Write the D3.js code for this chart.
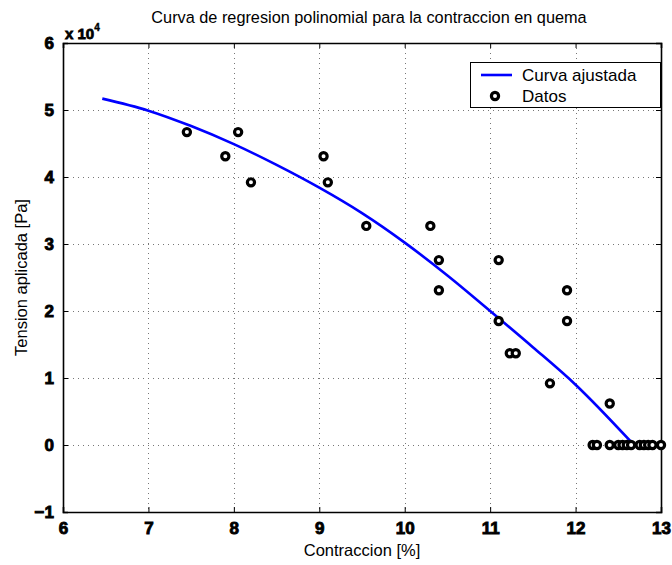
<!DOCTYPE html>
<html>
<head>
<meta charset="utf-8">
<script src="https://cdn.jsdelivr.net/npm/d3@7"></script>
<style>
  html, body { margin: 0; padding: 0; background: #fff; }
  svg { display: block; font-family: "Liberation Sans", Arial, Helvetica, sans-serif; }
  .bold { font-weight: 700 !important; }
</style>
</head>
<body>
<svg id="chart" width="672" height="565"></svg>
<script>
// ---- Data (values in units of 10^4 Pa) ----
const dataX = [7.45, 7.9, 8.05, 8.2, 9.05, 9.1, 9.55, 10.3, 10.4, 10.4, 11.1, 11.1, 11.23, 11.3, 11.7, 11.9, 11.9, 12.4,
               12.2, 12.25, 12.4, 12.5, 12.55, 12.6, 12.65, 12.75, 12.8, 12.85, 12.9, 13.0];
const dataY = [4.67, 4.31, 4.67, 3.92, 4.31, 3.92, 3.27, 3.27, 2.76, 2.31, 2.76, 1.85, 1.37, 1.37, 0.92, 2.31, 1.85, 0.62,
               0, 0, 0, 0, 0, 0, 0, 0, 0, 0, 0, 0];
const curveX = [6.46, 7.0, 7.5, 8.0, 8.5, 9.0, 9.5, 10.0, 10.5, 11.0, 11.5, 12.0, 12.64];
const curveY = [5.17, 4.99, 4.76, 4.49, 4.18, 3.84, 3.46, 3.02, 2.53, 2.00, 1.46, 0.90, 0.06];
const xTicks = [6, 7, 8, 9, 10, 11, 12, 13];
const yTicks = [-1, 0, 1, 2, 3, 4, 5, 6];
const titleText = "Curva de regresion polinomial  para la contraccion en quema";
const xLabel = "Contraccion [%]";
const yLabel = "Tension aplicada [Pa]";
const legendLabels = ["Curva ajustada", "Datos"];

// ---- Layout ----
const svg = d3.select("#chart");
const L = 63, R = 661, T = 43, B = 512;
const x = d3.scaleLinear().domain([6, 13]).range([L, R]);
const y = d3.scaleLinear().domain([-1, 6]).range([B, T]);

// grid
const grid = svg.append("g").attr("stroke", "#777").attr("stroke-width", 1).attr("stroke-dasharray", "1,4");
grid.selectAll("line.gx").data(xTicks.slice(1, -1)).join("line")
  .attr("x1", d => Math.round(x(d)) + 0.5).attr("x2", d => Math.round(x(d)) + 0.5)
  .attr("y1", T).attr("y2", B);
grid.selectAll("line.gy").data(yTicks.slice(1, -1)).join("line")
  .attr("y1", d => Math.round(y(d)) + 0.5).attr("y2", d => Math.round(y(d)) + 0.5)
  .attr("x1", L).attr("x2", R);

// axes via d3 axis generators
const fmt = d => (d < 0 ? "\u2212" + Math.abs(d) : String(d));
const xAxis = svg.append("g").attr("transform", `translate(0,${B})`)
  .call(d3.axisBottom(x).tickValues(xTicks).tickSize(-5).tickPadding(10).tickFormat(fmt));
const xAxisTop = svg.append("g").attr("transform", `translate(0,${T})`)
  .call(d3.axisTop(x).tickValues(xTicks).tickSize(-5).tickFormat(""));
const yAxis = svg.append("g").attr("transform", `translate(${L},0)`)
  .call(d3.axisLeft(y).tickValues(yTicks).tickSize(-5).tickPadding(9).tickFormat(fmt));
const yAxisRight = svg.append("g").attr("transform", `translate(${R},0)`)
  .call(d3.axisRight(y).tickValues(yTicks).tickSize(-5).tickFormat(""));

[xAxis, xAxisTop, yAxis, yAxisRight].forEach(g => {
  g.attr("font-family", null).attr("font-size", null);
  g.select(".domain").attr("stroke", "#000").attr("stroke-width", 1.6);
  g.selectAll(".tick line").attr("stroke", "#000").attr("stroke-width", 1);
  g.selectAll(".tick text").attr("fill", "#000").attr("class", "bold")
    .attr("font-family", "Liberation Sans, Arial, sans-serif")
    .attr("font-size", 17).attr("font-weight", 700)
    .attr("stroke", "#000").attr("stroke-width", 0.9);
});
xAxis.selectAll(".tick text").attr("dy", "0.71em");

// exponent label
const expT = svg.append("text").attr("x", L + 2).attr("y", 39).attr("class", "bold")
  .attr("font-size", 15).attr("font-weight", 700).attr("fill", "#000")
  .attr("stroke", "#000").attr("stroke-width", 0.8);
expT.append("tspan").text("x 10");
expT.append("tspan").attr("dy", -8).attr("font-size", 10).attr("stroke-width", 0.4).text("4");

// fitted curve
const line = d3.line().x(d => x(d[0])).y(d => y(d[1])).curve(d3.curveMonotoneX);
svg.append("path").datum(curveX.map((v, i) => [v, curveY[i]]))
  .attr("d", line).attr("fill", "none").attr("stroke", "#0000ff").attr("stroke-width", 2.6);

// data markers
svg.append("g").selectAll("circle").data(dataX.map((v, i) => [v, dataY[i]])).join("circle")
  .attr("cx", d => x(d[0])).attr("cy", d => y(d[1])).attr("r", 3.6)
  .attr("fill", "#fff").attr("stroke", "#000").attr("stroke-width", 3.2);

// title & labels
svg.append("text").attr("x", 369).attr("y", 23).attr("text-anchor", "middle")
  .style("font-size", "16.3px").attr("fill", "#000").text(titleText);
svg.append("text").attr("x", (L + R) / 2).attr("y", 556).attr("text-anchor", "middle")
  .style("font-size", "16.5px").attr("fill", "#000").text(xLabel);
svg.append("text").attr("transform", `translate(27,${(T + B) / 2}) rotate(-90)`).attr("text-anchor", "middle")
  .style("font-size", "16.5px").attr("fill", "#000").text(yLabel);

// legend
const lg = svg.append("g");
lg.append("rect").attr("x", 470.5).attr("y", 62.5).attr("width", 190).attr("height", 45)
  .attr("fill", "#fff").attr("stroke", "#000").attr("stroke-width", 1);
lg.append("line").attr("x1", 481).attr("x2", 512).attr("y1", 75).attr("y2", 75)
  .attr("stroke", "#0000ff").attr("stroke-width", 2.6);
lg.append("circle").attr("cx", 495).attr("cy", 96).attr("r", 3.6)
  .attr("fill", "#fff").attr("stroke", "#000").attr("stroke-width", 3.2);
lg.append("text").attr("x", 522).attr("y", 81).style("font-size", "17px").attr("fill", "#000").text(legendLabels[0]);
lg.append("text").attr("x", 522).attr("y", 102).style("font-size", "17px").attr("fill", "#000").text(legendLabels[1]);
</script>
</body>
</html>
